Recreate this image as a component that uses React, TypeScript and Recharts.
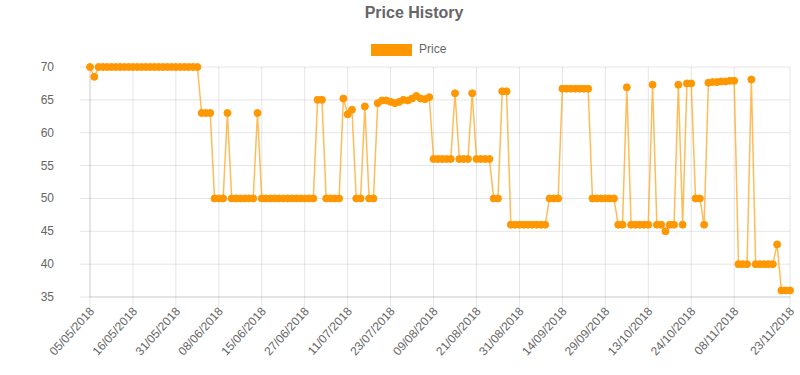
import { LineChart, Line, XAxis, YAxis, CartesianGrid } from 'recharts';

const tickLabels = [
  '05/05/2018', '16/05/2018', '31/05/2018', '08/06/2018', '15/06/2018', '27/06/2018',
  '11/07/2018', '23/07/2018', '09/08/2018', '21/08/2018', '31/08/2018', '14/09/2018',
  '29/09/2018', '13/10/2018', '24/10/2018', '08/11/2018', '23/11/2018',
];
const tickIndexes = [0, 10, 20, 30, 40, 50, 60, 70, 80, 90, 100, 110, 120, 130, 140, 150, 163];
const yTicks = [35, 40, 45, 50, 55, 60, 65, 70];

const prices = [
  70, 68.5, 70, 70, 70, 70, 70, 70, 70, 70,
  70, 70, 70, 70, 70, 70, 70, 70, 70, 70,
  70, 70, 70, 70, 70, 70, 63, 63, 63, 50,
  50, 50, 63, 50, 50, 50, 50, 50, 50, 63,
  50, 50, 50, 50, 50, 50, 50, 50, 50, 50,
  50, 50, 50, 65, 65, 50, 50, 50, 50, 65.2,
  62.8, 63.5, 50, 50, 64, 50, 50, 64.5, 64.9, 64.9,
  64.7, 64.5, 64.7, 65, 64.9, 65.2, 65.6, 65.2, 65.1, 65.4,
  56, 56, 56, 56, 56, 66, 56, 56, 56, 66,
  56, 56, 56, 56, 50, 50, 66.3, 66.3, 46, 46,
  46, 46, 46, 46, 46, 46, 46, 50, 50, 50,
  66.7, 66.7, 66.7, 66.7, 66.7, 66.7, 66.7, 50, 50, 50,
  50, 50, 50, 46, 46, 66.9, 46, 46, 46, 46,
  46, 67.3, 46, 46, 45, 46, 46, 67.3, 46, 67.5,
  67.5, 50, 50, 46, 67.6, 67.7, 67.7, 67.8, 67.8, 67.9,
  67.9, 40, 40, 40, 68.1, 40, 40, 40, 40, 40,
  43, 36, 36, 36,
];

const data = prices.map((price, i) => ({ i, price }));

const gridColor = 'rgba(0,0,0,0.1)';
const textColor = '#666';
const orange = '#ff9800';

const XTick = (props: any) => {
  const { x, y, payload } = props;
  const label = tickLabels[tickIndexes.indexOf(payload.value)];
  return (
    <text
      transform={`translate(${x + 2},${y}) rotate(-48)`}
      textAnchor="end"
      dominantBaseline="central"
      fill={textColor}
      fontSize={12}
    >
      {label}
    </text>
  );
};

const YTick = (props: any) => {
  const { y, payload } = props;
  return (
    <text x={54} y={y} textAnchor="end" dominantBaseline="central" fill={textColor} fontSize={12}>
      {payload.value}
    </text>
  );
};

export default function App() {
  return (
    <div
      style={{
        position: 'absolute',
        left: 0,
        top: 0,
        width: 800,
        height: 375,
        background: '#fff',
        fontFamily: '"Liberation Sans", Arial, sans-serif',
      }}
    >
      <div
        style={{
          position: 'absolute',
          left: 364,
          top: 4,
          width: 100,
          textAlign: 'center',
          fontSize: 16,
          fontWeight: 'bold',
          color: textColor,
        }}
      >
        Price History
      </div>
      <div style={{ position: 'absolute', left: 371, top: 44, width: 41, height: 12, background: orange }} />
      <div style={{ position: 'absolute', left: 419, top: 42, fontSize: 12, color: textColor }}>Price</div>
      <LineChart width={800} height={375} data={data} margin={{ top: 67, right: 10, bottom: 0, left: 0 }}>
        <CartesianGrid stroke={gridColor} />
        <XAxis
          dataKey="i"
          type="number"
          domain={[0, 163]}
          ticks={tickIndexes}
          interval={0}
          height={78}
          tickSize={10}
          tickLine={{ stroke: gridColor }}
          axisLine={{ stroke: gridColor }}
          tick={<XTick />}
        />
        <YAxis
          domain={[35, 70]}
          ticks={yTicks}
          width={90}
          tickSize={10}
          tickLine={{ stroke: gridColor }}
          axisLine={{ stroke: gridColor }}
          tick={<YTick />}
        />
        <Line
          type="linear"
          dataKey="price"
          stroke="rgba(255,152,0,0.65)"
          strokeWidth={1.5}
          dot={{ r: 3.5, fill: orange, stroke: orange, strokeWidth: 1 }}
          activeDot={false}
          isAnimationActive={false}
        />
      </LineChart>
    </div>
  );
}
